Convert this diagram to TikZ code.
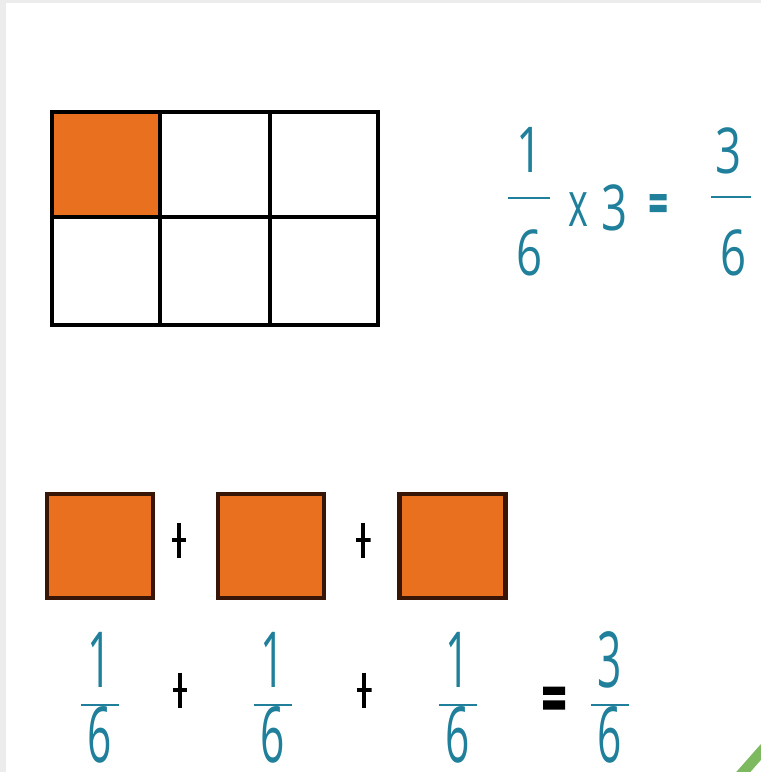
\documentclass[tikz,border=0pt]{standalone}
\usepackage{fontspec}
\setmainfont{Open Sans}
\usetikzlibrary{calc}
\definecolor{ink}{RGB}{32,128,155}
\definecolor{piecefill}{RGB}{232,112,30}
\definecolor{pieceline}{RGB}{55,22,8}
\definecolor{edgegray}{RGB}{236,236,236}
\definecolor{logogreen}{RGB}{125,185,95}
\newcommand{\bignum}[1]{\scalebox{0.72}[1]{#1}}
\newcommand{\smallnum}[1]{\scalebox{0.55}[1]{#1}}

\begin{document}
\begin{tikzpicture}[x=0.02cm, y=-0.02cm,
  grid/.style={line width=2.3pt, black, line cap=rect},
  piece/.style={rectangle, draw=pieceline, line width=2.3pt, fill=piecefill,
    minimum width=2.12cm, minimum height=2.08cm, inner sep=0pt},
  big/.style={inner sep=0pt, text=ink, font=\fontsize{36}{36}\selectfont},
  small/.style={inner sep=0pt, text=ink, font=\fontsize{44}{44}\selectfont},
  fbar/.style={rectangle, fill=ink, inner sep=0pt, minimum height=1.5pt},
  plusop/.style={inner sep=0pt, minimum width=0.3cm, minimum height=0.7cm,
    path picture={\draw[line width=2.8pt]
      (path picture bounding box.north) -- (path picture bounding box.south)
      (path picture bounding box.west) -- (path picture bounding box.east);}},
  eqop/.style={inner sep=0pt, minimum width=0.44cm, minimum height=0.46cm,
    path picture={\fill[#1]
      (path picture bounding box.north west) rectangle
        ($(path picture bounding box.north east)!0.36!(path picture bounding box.south east)$)
      ($(path picture bounding box.north west)!0.6!(path picture bounding box.south west)$) rectangle
        (path picture bounding box.south east);}},
  eqop/.default=black]
\useasboundingbox (0,0) rectangle (761,772);
\clip (0,0) rectangle (761,772);
\fill[white] (0,0) rectangle (761,772);
\fill[edgegray] (0,0) rectangle (6,772);
\fill[edgegray] (0,0) rectangle (761,3);

% the whole cut into six, one part shaded
\fill[piecefill] (52,112) rectangle (160,217);
\draw[grid] (52,112) rectangle (378,325);
\draw[grid] (160,112) -- (160,325);
\draw[grid] (270,112) -- (270,325);
\draw[grid] (52,217) -- (378,217);

% 1/6 x 3 = 3/6
\node[big] (n1) at (530,150) {\bignum{1}};
\node[fbar, minimum width=0.84cm] (b1) at (529,198) {};
\node[big] (d1) at (530,253) {\bignum{6}};
\node[big] (times) at (578,210) {\scalebox{0.6}[1]{x}};
\node[big] (three) at (615,208) {\bignum{3}};
\node[eqop=ink, minimum width=0.34cm, minimum height=0.36cm] (eq1) at (658,203) {};
\node[big] (n2) at (729,151) {\bignum{3}};
\node[fbar, minimum width=0.8cm] (b2) at (731,197) {};
\node[big] (d2) at (734,253) {\bignum{6}};

% three single parts
\node[piece] (p1) at (100,546) {};
\node[plusop] (pa) at (179,540) {};
\node[piece] (p2) at (271,546) {};
\node[plusop] (pb) at (363,540) {};
\node[piece] (p3) at (452.5,546) {};

% 1/6 + 1/6 + 1/6 = 3/6
\foreach \n/\x/\t in {1/100/1, 2/273/1, 3/458/1, 4/610/3} {
  \node[small] (sn\n) at (\x,660) {\smallnum{\t}};
  \node[fbar, minimum width=0.76cm] (sb\n) at (\x,705) {};
  \node[small] (sd\n) at (\x,735) {\smallnum{6}};
}
\node[plusop] (sa) at (180,690) {};
\node[plusop] (sb) at (364,690) {};
\node[eqop] (eq2) at (554,698) {};

\draw[logogreen, line width=6pt] (738,778) -- (768,744);
\end{tikzpicture}
\end{document}
